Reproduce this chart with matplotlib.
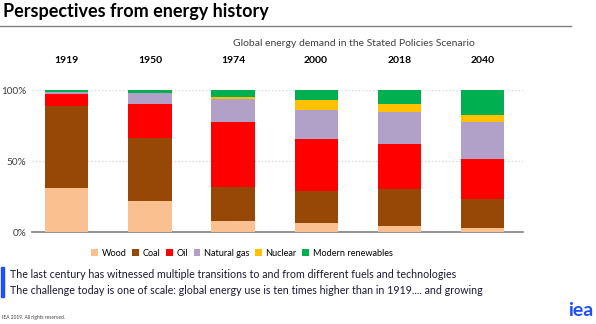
import matplotlib
matplotlib.use("Agg")
import matplotlib.pyplot as plt
from matplotlib.patches import Patch, Rectangle
from matplotlib.lines import Line2D

years = ["1919", "1950", "1974", "2000", "2018", "2040"]
fuels = ["Wood", "Coal", "Oil", "Natural gas", "Nuclear", "Modern renewables"]
wood = [31.0, 22.0, 8.0, 6.3, 4.2, 2.8]
coal = [58.0, 44.5, 23.6, 22.7, 26.5, 20.9]
oil = [8.2, 23.7, 45.7, 36.3, 31.4, 28.1]
gas = [1.2, 7.5, 16.4, 20.9, 22.7, 25.5]
nuclear = [0.0, 0.0, 1.1, 6.5, 5.1, 5.1]
renewables = [1.6, 2.3, 5.2, 7.3, 10.1, 17.6]
series = [wood, coal, oil, gas, nuclear, renewables]
colors = ["#FAC090", "#974706", "#FF0000", "#B1A0C7", "#FFC000", "#00B050"]
yticks = [0, 50, 100]
yticklabels = ["0%", "50%", "100%"]

W, H = 596, 324
fig = plt.figure(figsize=(W / 100, H / 100), dpi=100)
body = ["Lato", "DejaVu Sans"]

def fx(px):
    return px / W

def fy(py):
    return 1 - py / H

ax = fig.add_axes([fx(32), fy(232.3), fx(523) - fx(32), fy(90) - fy(232.3)])
x = list(range(len(years)))
bottom = [0.0] * len(years)
for vals, col, name in zip(series, colors, fuels):
    ax.bar(x, vals, bottom=bottom, width=0.52, color=col, label=name, zorder=3)
    bottom = [b + v for b, v in zip(bottom, vals)]

ax.set_xlim(-0.42, 5.49)
ax.set_ylim(0, 100)
ax.set_yticks(yticks)
ax.set_yticklabels(yticklabels, fontsize=7.2, color="#404040", family=body)
ax.set_xticks([])
ax.tick_params(axis="y", length=0, pad=4)
for s in ["top", "right", "left"]:
    ax.spines[s].set_visible(False)
ax.spines["bottom"].set_color("#808080")
ax.spines["bottom"].set_linewidth(1.2)
for yv in [50, 100]:
    ax.axhline(yv, color="#D9D9D9", linestyle=(0, (1, 1.5)), linewidth=1.0, zorder=1)

trans = ax.get_xaxis_transform()
for i, yr in enumerate(years):
    ax.text(i, 1.205, yr, transform=trans, ha="center", va="center",
            fontsize=7.5, fontweight="bold", family=body, color="#000000")

fig.text(fx(354), fy(44), "Global energy demand in the Stated Policies Scenario",
         ha="center", va="center", fontsize=7.5, family=body, color="#404040")

# Title and rule
fig.text(fx(3), fy(12), "Perspectives from energy history", ha="left", va="center",
         fontsize=13, fontweight="bold", family=body, color="#000000")
fig.add_artist(Line2D([0, fx(571)], [fy(26), fy(26)], color="#808080", linewidth=1.0))

# Legend
handles = [Patch(facecolor=c, edgecolor="none", label=n) for c, n in zip(colors, fuels)]
fig.legend(handles=handles, loc="center", bbox_to_anchor=(fx(242), fy(253)), ncol=6,
           frameon=False, prop={"family": body, "size": 6.6},
           handlelength=0.75, handleheight=0.75, handletextpad=0.4, columnspacing=0.6)

# Key messages
fig.add_artist(Rectangle((fx(1), fy(297)), fx(3), fy(267) - fy(297), color="#1F4EFF",
                         transform=fig.transFigure))
fig.text(fx(10), fy(275), "The last century has witnessed multiple transitions to and from different fuels and technologies",
         ha="left", va="center", fontsize=7.7, family=body, color="#1A1A2E")
fig.text(fx(10), fy(291), "The challenge today is one of scale: global energy use is ten times higher than in 1919.... and growing",
         ha="left", va="center", fontsize=7.7, family=body, color="#1A1A2E")

fig.text(fx(2), fy(318), "IEA 2019. All rights reserved.", ha="left", va="center",
         fontsize=3.5, family=body, color="#404040")
fig.text(fx(593), fy(310), "iea", ha="right", va="center", fontsize=14, fontweight="bold",
         family=body, color="#1F4EFF")

fig.savefig("out.png", dpi=100)
